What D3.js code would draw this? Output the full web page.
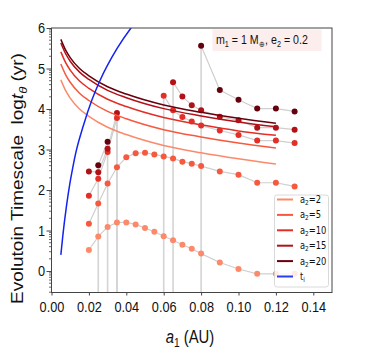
<!DOCTYPE html>
<html>
<head>
<meta charset="utf-8">
<script src="https://cdn.jsdelivr.net/npm/d3@7"></script>
<style>
  body { margin: 0; background: #fff; }
  svg text { font-family: "Liberation Sans", Arial, sans-serif; fill: #111; }
</style>
</head>
<body>
<div id="chart"></div>
<script>
// simulation grid (a1 in AU)
const a1Grid = [0.02, 0.025, 0.03, 0.035, 0.04, 0.045, 0.05, 0.055, 0.06, 0.065, 0.07, 0.075, 0.08, 0.09, 0.10, 0.11, 0.12, 0.13];

// simulated log timescale per outer semi-major axis (null = off the bottom)
const sim2  = [0.52, 0.85, 1.09, 1.20, 1.20, 1.15, 1.06, 0.97, 0.86, 0.76, 0.65, 0.55, 0.43, 0.21, 0.05, -0.07, -0.07, -0.07];
const sim5  = [1.17, 1.67, 2.16, 2.56, 2.81, 2.91, 2.92, 2.88, 2.83, 2.78, 2.70, 2.65, 2.59, 2.46, 2.38, 2.18, 2.18, 2.09];
const sim10 = [1.86, 2.28, 2.94, 3.78, null, null, null, null, 4.33, 3.97, 3.80, 3.69, 3.59, 3.47, 3.36, 3.22, 3.22, 3.16];
const sim15 = [2.46, 2.44, 3.02, 3.90, null, null, null, null, null, 4.66, 4.31, 4.09, 3.97, 3.81, 3.72, 3.54, 3.54, 3.49];
const sim20 = [null, 2.61, 3.19, null, null, null, null, null, null, null, null, null, 5.56, 4.47, 4.23, 4.01, 4.01, 3.94];

// analytic curves
const curveX  = [0.005, 0.0075, 0.01, 0.015, 0.02, 0.03, 0.04, 0.06, 0.08, 0.10, 0.12];
const curve2  = [4.72, 4.46, 4.27, 4.00, 3.82, 3.55, 3.37, 3.10, 2.92, 2.77, 2.64];
const curve5  = [5.11, 4.85, 4.66, 4.39, 4.21, 3.94, 3.76, 3.49, 3.31, 3.16, 3.04];
const curve10 = [5.41, 5.15, 4.96, 4.69, 4.51, 4.24, 4.06, 3.79, 3.61, 3.46, 3.35];
const curve15 = [5.63, 5.37, 5.18, 4.91, 4.73, 4.46, 4.28, 4.01, 3.83, 3.68, 3.56];
const curve20 = [5.72, 5.46, 5.27, 5.00, 4.82, 4.55, 4.37, 4.10, 3.92, 3.77, 3.65];

// t_i curve
const tiX = [0.005, 0.006, 0.008, 0.0099, 0.0114, 0.0131, 0.0171, 0.0216, 0.026, 0.035, 0.0425, 0.045];
const tiY = [0.40, 0.85, 1.60, 2.18, 2.56, 2.94, 3.60, 4.22, 4.71, 5.49, 6.00, 6.15];

const a2Values = ["2", "5", "10", "15", "20"];
const colors = ["#fc8a6a", "#f7593f", "#e32f27", "#b11218", "#67000d"];
const simSeries = [sim2, sim5, sim10, sim15, sim20];
const curveSeries = [curve2, curve5, curve10, curve15, curve20];

const xTicks = [0, 0.02, 0.04, 0.06, 0.08, 0.10, 0.12, 0.14];
const yTicks = [0, 1, 2, 3, 4, 5, 6];
const minorSteps = [2, 3, 4, 5, 6, 7, 8, 9];

const W = 374, H = 354;
const SQ = 0.85; // the original figure text is narrow

const svg = d3.select("#chart").append("svg")
    .attr("width", W)
    .attr("height", H);

const x = d3.scaleLinear().domain([0, 0.15]).range([51.5, 332]);
const y = d3.scaleLinear().domain([-0.53, 6]).range([292.5, 28]);

// narrow a text element horizontally around its x anchor
function squish(t, x0) {
    t.attr("transform", `translate(${(1 - SQ) * x0},0) scale(${SQ},1)`);
}

svg.append("clipPath").attr("id", "plot")
  .append("rect")
    .attr("x", x.range()[0]).attr("y", y.range()[1])
    .attr("width", x.range()[1] - x.range()[0])
    .attr("height", y.range()[0] - y.range()[1]);

const plot = svg.append("g").attr("clip-path", "url(#plot)");

// vertical drop lines where a series leaves the plot
simSeries.forEach(s => {
    s.forEach((v, i) => {
        if (v == null) return;
        const prevGone = i > 0 && s[i - 1] == null;
        const nextGone = i < s.length - 1 && s[i + 1] == null;
        if (prevGone || nextGone) {
            plot.append("line")
                .attr("x1", x(a1Grid[i])).attr("x2", x(a1Grid[i]))
                .attr("y1", y(v)).attr("y2", y.range()[0] + 2)
                .attr("stroke", "#d4d4d4")
                .attr("stroke-width", 1.6);
        }
    });
});

// gray connectors
const simLine = d3.line()
    .defined(d => d[1] != null)
    .x(d => x(d[0]))
    .y(d => y(d[1]));

simSeries.forEach(s => {
    plot.append("path")
        .datum(a1Grid.map((a, i) => [a, s[i]]))
        .attr("d", simLine)
        .attr("fill", "none")
        .attr("stroke", "#cfcfcf")
        .attr("stroke-width", 1.2);
});

// points
simSeries.forEach((s, k) => {
    plot.selectAll(null)
        .data(a1Grid.map((a, i) => [a, s[i]]).filter(d => d[1] != null))
        .join("circle")
        .attr("cx", d => x(d[0]))
        .attr("cy", d => y(d[1]))
        .attr("r", 3)
        .attr("fill", colors[k]);
});

// analytic curves
const curveLine = d3.line()
    .x(d => x(d[0]))
    .y(d => y(d[1]))
    .curve(d3.curveMonotoneX);

curveSeries.forEach((c, k) => {
    plot.append("path")
        .datum(curveX.map((a, i) => [a, c[i]]))
        .attr("d", curveLine)
        .attr("fill", "none")
        .attr("stroke", colors[k])
        .attr("stroke-width", 1.5);
});

plot.append("path")
    .datum(tiX.map((a, i) => [a, tiY[i]]))
    .attr("d", curveLine)
    .attr("fill", "none")
    .attr("stroke", "#1422f2")
    .attr("stroke-width", 1.5);

// axes
const xAxis = svg.append("g")
    .attr("transform", `translate(0,${y.range()[0]})`)
    .call(d3.axisBottom(x).tickValues(xTicks).tickFormat(d3.format(".2f")).tickSize(3).tickPadding(6));
const yAxis = svg.append("g")
    .attr("transform", `translate(${x.range()[0]},0)`)
    .call(d3.axisLeft(y).tickValues(yTicks).tickFormat(d3.format("d")).tickSize(5).tickPadding(2.6));

[xAxis, yAxis].forEach(g => {
    g.select(".domain").remove();
    g.selectAll("line").attr("stroke", "#444");
    g.selectAll("text")
        .attr("font-size", 15)
        .attr("font-family", "Liberation Sans, Arial, sans-serif")
        .attr("fill", "#111")
        .attr("transform", `scale(${SQ},1)`);
});

// y minor ticks
const minor = [];
yTicks.forEach(n => minorSteps.forEach(k => {
    const v = n - 1 + Math.log10(k);
    if (v > y.domain()[0]) minor.push(v);
}));
svg.append("g").selectAll("line")
    .data(minor)
    .join("line")
    .attr("x1", x.range()[0] - 2.5).attr("x2", x.range()[0])
    .attr("y1", d => y(d)).attr("y2", d => y(d))
    .attr("stroke", "#444")
    .attr("stroke-width", 0.8);

// frame
svg.append("rect")
    .attr("x", x.range()[0]).attr("y", y.range()[1])
    .attr("width", x.range()[1] - x.range()[0])
    .attr("height", y.range()[0] - y.range()[1])
    .attr("fill", "none")
    .attr("stroke", "#444")
    .attr("stroke-width", 1);

// axis labels
const yl = svg.append("text")
    .attr("transform", `translate(23.3,178.5) scale(${SQ},1) rotate(-90)`)
    .attr("text-anchor", "middle")
    .attr("font-size", 19);
yl.append("tspan").text("Evolutoin Timescale\u00a0\u00a0log");
yl.append("tspan").attr("font-style", "italic").text("t");
yl.append("tspan").attr("font-style", "italic").attr("font-size", 13).attr("dy", 4).text("θ");
yl.append("tspan").attr("dy", -4).text(" (yr)");

const xl = svg.append("text")
    .attr("x", 190).attr("y", 343.5)
    .attr("text-anchor", "middle")
    .attr("font-size", 17.5);
xl.append("tspan").attr("font-style", "italic").text("a");
xl.append("tspan").attr("font-size", 12).attr("dy", 3.5).text("1");
xl.append("tspan").attr("dy", -3.5).text(" (AU)");
squish(xl, 190);

// annotation
svg.append("rect")
    .attr("x", 212.5).attr("y", 29.5)
    .attr("width", 109).attr("height", 21.5)
    .attr("fill", "#fdeeee");
const ann = svg.append("text")
    .attr("x", 216).attr("y", 44.5)
    .attr("font-size", 12.5);
ann.append("tspan").text("m");
ann.append("tspan").attr("font-size", 8.5).attr("dy", 2.5).text("1");
ann.append("tspan").attr("dy", -2.5).text(" = 1 M");
ann.append("tspan").attr("font-size", 8.5).attr("dy", 2.5).text("⊕");
ann.append("tspan").attr("dy", -2.5).text(", e");
ann.append("tspan").attr("font-size", 8.5).attr("dy", 2.5).text("2");
ann.append("tspan").attr("dy", -2.5).text(" = 0.2");
squish(ann, 216);

// legend
const legend = svg.append("g");
legend.append("rect")
    .attr("x", 274.5).attr("y", 195)
    .attr("width", 54).attr("height", 92)
    .attr("rx", 2.5)
    .attr("fill", "#fff").attr("fill-opacity", 0.82)
    .attr("stroke", "#d0d0d0").attr("stroke-width", 0.8);

const legendItems = a2Values.map((v, k) => ({ label: v, color: colors[k] }))
    .concat([{ label: null, color: "#2b3cf5" }]);
legendItems.forEach((d, i) => {
    const ly = 199.5 + i * 15.4;
    legend.append("line")
        .attr("x1", 277).attr("x2", 293)
        .attr("y1", ly).attr("y2", ly)
        .attr("stroke", d.color).attr("stroke-width", 2);
    const t = legend.append("text")
        .attr("x", 300).attr("y", ly + 3.5)
        .attr("font-size", 9.8)
        .style("font-family", "'DejaVu Sans', sans-serif")
        .attr("fill", "#333");
    if (d.label) {
        t.append("tspan").text("a");
        t.append("tspan").attr("font-size", 6.8).attr("dy", 2).text("2");
        t.append("tspan").attr("dy", -2).text("=" + d.label);
    } else {
        t.append("tspan").text("t");
        t.append("tspan").attr("font-size", 6.8).attr("dy", 2).text("i");
    }
    squish(t, 300);
});
</script>
</body>
</html>
